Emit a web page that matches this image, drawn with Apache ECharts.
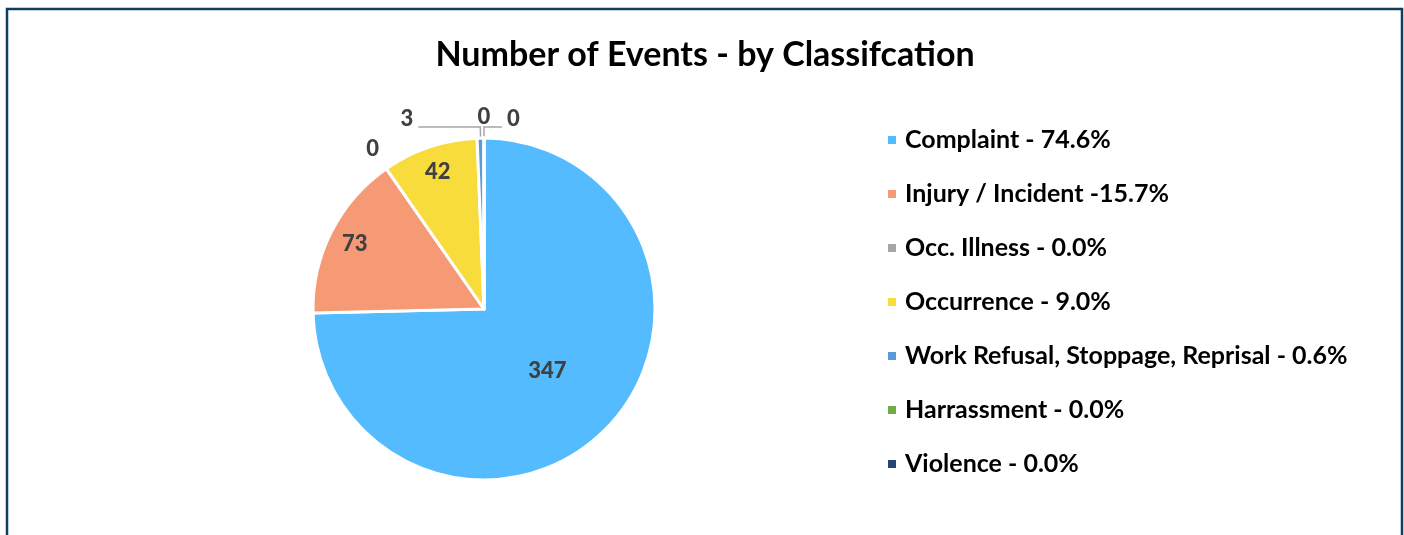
<!DOCTYPE html>
<html>
<head>
<meta charset="utf-8">
<script src="https://cdn.jsdelivr.net/npm/echarts@6/dist/echarts.min.js"></script>
<style>
html,body{margin:0;padding:0;background:#fff;}
#chart{width:1404px;height:535px;}
</style>
</head>
<body>
<div id="chart"></div>
<script>
const titleText = 'Number of Events - by Classifcation';
const categories = ['Complaint', 'Injury / Incident', 'Occ. Illness', 'Occurrence', 'Work Refusal, Stoppage, Reprisal', 'Harrassment', 'Violence'];
const values = [347, 73, 0, 42, 3, 0, 0];
const legendLabels = ['Complaint - 74.6%', 'Injury / Incident -15.7%', 'Occ. Illness - 0.0%', 'Occurrence - 9.0%', 'Work Refusal, Stoppage, Reprisal - 0.6%', 'Harrassment - 0.0%', 'Violence - 0.0%'];

// ---- styles (kept apart from the data) ----
const colors = ['#55BBFF', '#F59A74', '#A5A5A5', '#F8DC3B', '#5B9BD5', '#70AD47', '#264478'];
// label placement per category: 'center' (mid radius), 'edge' (near rim), 'outside'
const labelModes = ['center', 'edge', 'outside', 'edge', 'outside', 'outside', 'outside'];
// for outside labels: which side of the leader line the text goes, and whether the line shows
const labelSides = [null, null, 'radial', null, 'left', 'top', 'right'];
const lineShown = [false, false, false, false, true, false, true];
const lineLen = [0, 0, 24, 0, 11, 13, 11];
const lineLen2 = [0, 0, 0, 0, 62, 0, 18];

const FONT = 'Lato';
const labelStyle = {fontFamily: FONT, fontWeight: 900, fontSize: 22, color: '#404040'};
const R = 171;

const chart = echarts.init(document.getElementById('chart'), null, {renderer: 'canvas'});

const mainData = categories.map((c, i) => {
  const mode = labelModes[i];
  const item = {name: c, value: values[i], itemStyle: {color: colors[i]}};
  if (mode === 'center') {
    item.label = Object.assign({show: true, position: 'inside', formatter: '{c}'}, labelStyle);
    item.labelLine = {show: false};
  } else if (mode === 'outside') {
    item.label = Object.assign({show: true, position: 'outside', formatter: '{c}', distanceToLabelLine: 5}, labelStyle);
    item.labelLine = {show: lineShown[i], length: lineLen[i], length2: lineLen2[i], smooth: false,
      lineStyle: {color: '#A6A6A6', width: 1.5}};
  } else {
    item.label = {show: false};
    item.labelLine = {show: false};
  }
  return item;
});

const ringData = categories.map((c, i) => {
  const item = {name: c, value: values[i], itemStyle: {color: 'rgba(0,0,0,0)', borderWidth: 0}};
  if (labelModes[i] === 'edge') {
    item.label = Object.assign({show: true, position: 'inside', formatter: '{c}'}, labelStyle);
  } else {
    item.label = {show: false};
  }
  item.labelLine = {show: false};
  return item;
});

// adjust outside labels relative to the leader line geometry computed by ECharts
function layoutOutside(params) {
  const i = params.dataIndex;
  const side = labelSides[i];
  const pts = params.labelLinePoints;
  if (!side || !pts || pts.length < 3) return {};
  const p0 = pts[0], p1 = pts[1], p2 = pts[2];
  const lift = 8;
  if (side === 'top') {
    return {x: p0[0], y: p2[1] - lift, align: 'center', verticalAlign: 'middle'};
  }
  if (side === 'radial') {
    return {x: p2[0], y: p2[1], align: 'center', verticalAlign: 'middle'};
  }
  const wantRight = side === 'right';
  const isRight = p2[0] >= p0[0];
  let q1 = p1.slice(), q2 = p2.slice();
  if (wantRight !== isRight) {
    q1 = [2 * p0[0] - p1[0], p1[1]];
    q2 = [2 * p0[0] - p2[0], p2[1]];
  }
  return {
    x: q2[0] + (wantRight ? 5 : -5),
    y: q2[1] - lift,
    align: wantRight ? 'left' : 'right',
    verticalAlign: 'middle',
    labelLinePoints: [p0.slice(), q1, q2]
  };
}

const option = {
  animation: false,
  backgroundColor: '#ffffff',
  title: {
    text: titleText,
    left: 705, top: 38, textAlign: 'center', padding: 0,
    textStyle: {fontFamily: FONT, fontWeight: 'bold', fontSize: 34, color: '#000000'}
  },
  legend: {
    orient: 'vertical',
    left: 886, top: 127, padding: 0,
    itemWidth: 10, itemHeight: 10,
    itemGap: 28,
    icon: 'rect',
    data: categories.map((c, i) => ({name: c, itemStyle: {color: colors[i]}})),
    formatter: name => legendLabels[categories.indexOf(name)],
    textStyle: {fontFamily: FONT, fontWeight: 'bold', fontSize: 25, color: '#000000', lineHeight: 26, padding: [0, 0, 0, 3]}
  },
  graphic: [{
    type: 'rect', silent: true,
    shape: {x: 7, y: 9, width: 1395, height: 600},
    style: {fill: 'none', stroke: '#0E3F60', lineWidth: 2.5}
  }],
  series: [{
    type: 'pie',
    center: [484, 309],
    radius: [0, R],
    startAngle: 90,
    clockwise: true,
    avoidLabelOverlap: false,
    itemStyle: {borderColor: '#ffffff', borderWidth: 3},
    label: labelStyle,
    emphasis: {disabled: true},
    labelLayout: layoutOutside,
    data: mainData
  }, {
    type: 'pie',
    silent: true,
    center: [484, 309],
    radius: [R * 0.66, R],
    startAngle: 90,
    clockwise: true,
    avoidLabelOverlap: false,
    label: labelStyle,
    emphasis: {disabled: true},
    data: ringData
  }]
};
chart.setOption(option);
</script>
</body>
</html>
